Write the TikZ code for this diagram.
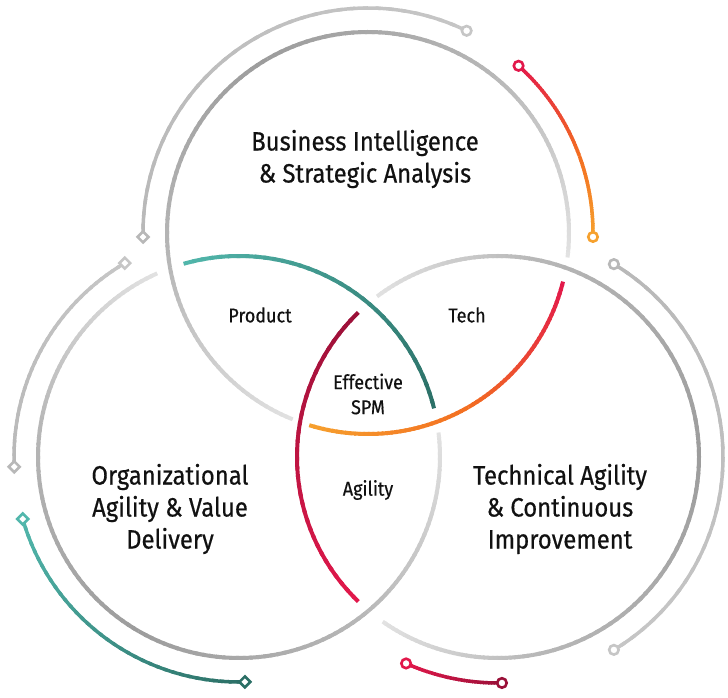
\documentclass[tikz,border=0pt]{standalone}
\usepackage{fontspec}
\setmainfont{Fira Sans}[FakeStretch=0.9, FakeBold=0.5]
\usepackage{tkz-euclide}
\usetikzlibrary{shapes.geometric}

\definecolor{grayL}{HTML}{E2E2E2}
\definecolor{grayM}{HTML}{B8B8B8}
\definecolor{grayD}{HTML}{9C9C9C}
\definecolor{grayO}{HTML}{C6C6C6}
\definecolor{tealL}{HTML}{52B7AC}
\definecolor{tealD}{HTML}{2B6F66}
\definecolor{redC}{HTML}{E2184B}
\definecolor{redD}{HTML}{9A1038}
\definecolor{orangeA}{HTML}{F6A12E}
\definecolor{orangeB}{HTML}{F36E21}
\definecolor{inkT}{HTML}{111111}

% arc drawn in small pieces, colour going from #6 to #7
\newcommand{\gradarc}[7]{%
  \foreach \k in {1,...,36}{%
    \pgfmathsetmacro{\angA}{#4+(#5-#4)*(\k-1)/36}%
    \pgfmathsetmacro{\angB}{#4+(#5-#4)*min(\k+0.4,36)/36}%
    \pgfmathtruncatemacro{\mixP}{100-100*(\k-0.5)/36}%
    \draw[#1, draw=#6!\mixP!#7] (#2) ++(\angA:#3) arc[start angle=\angA, end angle=\angB, radius=#3];
  }%
}

\begin{document}
\begin{tikzpicture}[x=1pt, y=1pt,
    arcline/.style={line width=4pt, line cap=butt},
    outline/.style={line width=3.5pt, line cap=butt},
    ringcap/.style={circle, draw, fill=white, line width=2.6pt, inner sep=0pt, minimum size=9.5pt},
    diacap/.style={diamond, draw, fill=white, line width=2.6pt, inner sep=0pt, minimum size=12pt},
    bigtxt/.style={font=\fontsize{26.5}{32}\selectfont, align=center, text=inkT},
    smalltxt/.style={font=\fontsize{20}{25}\selectfont, align=center, text=inkT}]
    \useasboundingbox (0,0) rectangle (728,698);
    \tkzDefPoints{368/465/T,239/241/L,498/241/R}
    % top circle
    \gradarc{arcline}{T}{201}{248}{190}{grayL}{grayM}
    \gradarc{arcline}{T}{201}{190}{120}{grayM}{grayD}
    \gradarc{arcline}{T}{201}{120}{50}{grayD}{grayM}
    \gradarc{arcline}{T}{201}{50}{-7}{grayM}{grayL}
    \gradarc{arcline}{T}{201}{253}{300}{orangeA}{orangeB}
    \gradarc{arcline}{T}{201}{300}{346}{orangeB}{redC}
    % left circle
    \gradarc{arcline}{L}{201}{106}{14}{tealL}{tealD}
    \gradarc{arcline}{L}{201}{114}{170}{grayL}{grayM}
    \gradarc{arcline}{L}{201}{170}{240}{grayM}{grayD}
    \gradarc{arcline}{L}{201}{240}{310}{grayD}{grayM}
    \gradarc{arcline}{L}{201}{310}{367}{grayM}{grayL}
    % right circle
    \gradarc{arcline}{R}{201}{134}{226}{redD}{redC}
    \gradarc{arcline}{R}{201}{127}{80}{grayL}{grayM}
    \gradarc{arcline}{R}{201}{80}{0}{grayM}{grayD}
    \gradarc{arcline}{R}{201}{0}{-80}{grayD}{grayM}
    \gradarc{arcline}{R}{201}{-80}{-125}{grayM}{grayL}
    % outer arcs
    \gradarc{outline}{T}{225}{64}{181}{grayO}{grayM}
    \gradarc{outline}{T}{225}{48}{20}{redC}{orangeB}
    \gradarc{outline}{T}{225}{20}{-1}{orangeB}{orangeA}
    \gradarc{outline}{L}{225}{120.5}{182.5}{grayO}{grayM}
    \gradarc{outline}{L}{225}{196}{271.5}{tealL}{tealD}
    \gradarc{outline}{R}{225}{59}{-59}{grayM}{grayO}
    \gradarc{outline}{R}{226}{246}{271}{redC}{redD}
    % end caps
    \path (T) ++(64:225) node[ringcap, draw=grayO] (capTg) {};
    \path (T) ++(181:225) node[diacap, draw=grayM] (capTd) {};
    \path (T) ++(48:225) node[ringcap, draw=redC] (capTr) {};
    \path (T) ++(-1:225) node[ringcap, draw=orangeA] (capTo) {};
    \path (L) ++(120.5:225) node[diacap, draw=grayO] (capLg) {};
    \path (L) ++(182.5:225) node[diacap, draw=grayM] (capLh) {};
    \path (L) ++(196:225) node[diacap, draw=tealL] (capLt) {};
    \path (L) ++(271.5:225) node[diacap, draw=tealD] (capLu) {};
    \path (R) ++(59:225) node[ringcap, draw=grayM] (capRg) {};
    \path (R) ++(-59:225) node[ringcap, draw=grayO] (capRh) {};
    \path (R) ++(246:226) node[ringcap, draw=redC] (capRr) {};
    \path (R) ++(271:226) node[ringcap, draw=redD] (capRs) {};
    % labels
    \node[bigtxt] (biz) at (365,539) {Business Intelligence\\\& Strategic Analysis};
    \node[bigtxt] (org) at (170,189) {Organizational\\Agility \& Value\\Delivery};
    \node[bigtxt] (tec) at (560,189) {Technical Agility\\\& Continuous\\Improvement};
    \node[smalltxt] (prod) at (260,383) {Product};
    \node[smalltxt] (tech) at (467,383) {Tech};
    \node[smalltxt] (spm) at (368,304) {Effective\\SPM};
    \node[smalltxt] (agil) at (368,208) {Agility};
\end{tikzpicture}
\end{document}
